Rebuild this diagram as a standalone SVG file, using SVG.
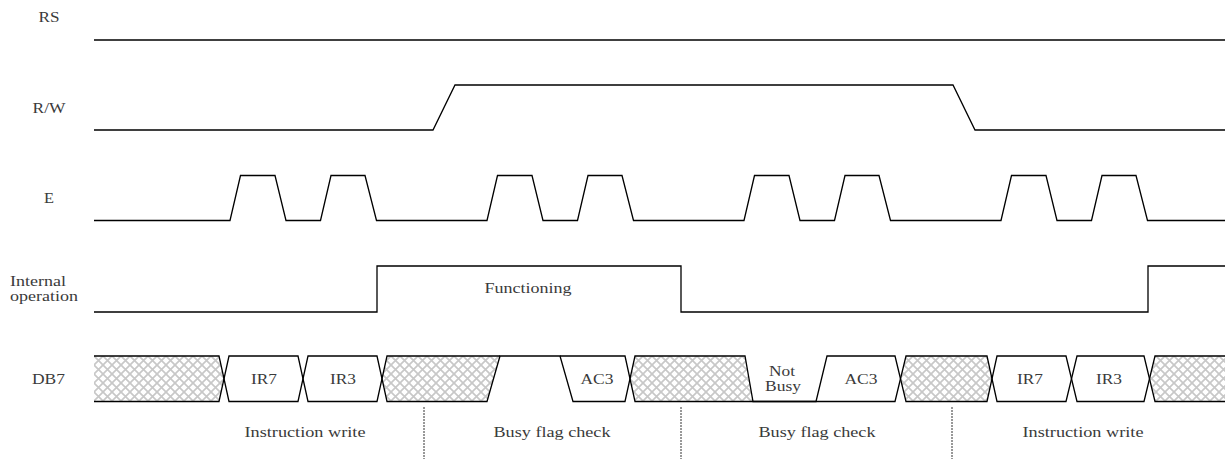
<svg xmlns="http://www.w3.org/2000/svg" width="1225" height="459" viewBox="0 0 1225 459">
<style>
text{font-family:"Liberation Serif","Times New Roman",serif;font-size:15px;fill:#3a3a3a;text-anchor:middle}
.s{fill:none;stroke:#000;stroke-width:1.3;stroke-linejoin:miter}
.d{fill:none;stroke:#333;stroke-width:1;stroke-dasharray:2 1}
.x{stroke:none;fill:url(#hatch)}
</style>
<defs>
<pattern id="hatch" width="9" height="9" patternUnits="userSpaceOnUse" patternTransform="translate(94 356)">
<path d="M-1 -1L10 10M-1 10L10 -1" fill="none" stroke="#c8c8c8" stroke-width="1.7"/>
</pattern>
</defs>
<rect width="1225" height="459" fill="#fff"/>
<g id="labels">
<text x="49" y="22" textLength="21" lengthAdjust="spacingAndGlyphs">RS</text>
<text x="49" y="113" textLength="33" lengthAdjust="spacingAndGlyphs">R/W</text>
<text x="49" y="203" textLength="10" lengthAdjust="spacingAndGlyphs">E</text>
<text x="38" y="286" textLength="56" lengthAdjust="spacingAndGlyphs">Internal</text>
<text x="44" y="301" textLength="68" lengthAdjust="spacingAndGlyphs">operation</text>
<text x="48.500" y="384" textLength="33" lengthAdjust="spacingAndGlyphs">DB7</text>
</g>
<g id="hatched">
<path class="x" d="M94 356H219L224 379L219 401.500H94Z"/>
<path class="x" d="M387 356H500L487 401.500H387L382 379Z"/>
<path class="x" d="M635 356H745L753 401.500H635L630 379Z"/>
<path class="x" d="M906 356H987L992 379L987 401.500H906L901 379Z"/>
<path class="x" d="M1155 356H1225V401.500H1155L1150 379Z"/>
</g>
<g id="connectors">
<path id="rs" class="s" d="M94 40H1225"/>
<path id="rw" class="s" d="M94 130H433L455 85H953L975 130H1225"/>
<path id="e" class="s" d="M94 220.500H230L240.500 175.500H275L286 220.500H320.500L331 175.500H365L376.500 220.500H487L497.500 175.500H532L543 220.500H577.500L588 175.500H622L633.500 220.500H744L754.500 175.500H789L800 220.500H834.500L845 175.500H879L890.500 220.500H1001L1011.500 175.500H1046L1057 220.500H1091.500L1102 175.500H1136L1147.500 220.500H1225"/>
<path id="internal" class="s" d="M94 312H377V266H681V312H1148V266H1225"/>
<path id="db7-top" class="s" d="M94 356H219L229 401.500H298L308 356H377L387 401.500H487L500 356H560L573 401.500H625L635 356H745L753 401.500H816L827 356H895L906 401.500H987L997 356H1066L1077 401.500H1144L1155 356H1225"/>
<path id="db7-bottom" class="s" d="M94 401.500H219L229 356H298L308 401.500H377L387 356H500M560 356H625L635 401.500H816H895L906 356H987L997 401.500H1066L1077 356H1144L1155 401.500H1225"/>
<path class="d" d="M424 407V459M681 407V459M952 407V459"/>
</g>
<g id="data-labels">
<text x="528" y="293" textLength="87" lengthAdjust="spacingAndGlyphs">Functioning</text>
<text x="264" y="384" textLength="26" lengthAdjust="spacingAndGlyphs">IR7</text>
<text x="343" y="384" textLength="26" lengthAdjust="spacingAndGlyphs">IR3</text>
<text x="597" y="384" textLength="33" lengthAdjust="spacingAndGlyphs">AC3</text>
<text x="782" y="376" textLength="26" lengthAdjust="spacingAndGlyphs">Not</text>
<text x="783" y="391" textLength="36" lengthAdjust="spacingAndGlyphs">Busy</text>
<text x="861" y="384" textLength="33" lengthAdjust="spacingAndGlyphs">AC3</text>
<text x="1030" y="384" textLength="26" lengthAdjust="spacingAndGlyphs">IR7</text>
<text x="1109" y="384" textLength="26" lengthAdjust="spacingAndGlyphs">IR3</text>
<text x="305" y="437" textLength="121" lengthAdjust="spacingAndGlyphs">Instruction write</text>
<text x="552" y="437" textLength="117" lengthAdjust="spacingAndGlyphs">Busy flag check</text>
<text x="817" y="437" textLength="117" lengthAdjust="spacingAndGlyphs">Busy flag check</text>
<text x="1083" y="437" textLength="121" lengthAdjust="spacingAndGlyphs">Instruction write</text>
</g>
</svg>
